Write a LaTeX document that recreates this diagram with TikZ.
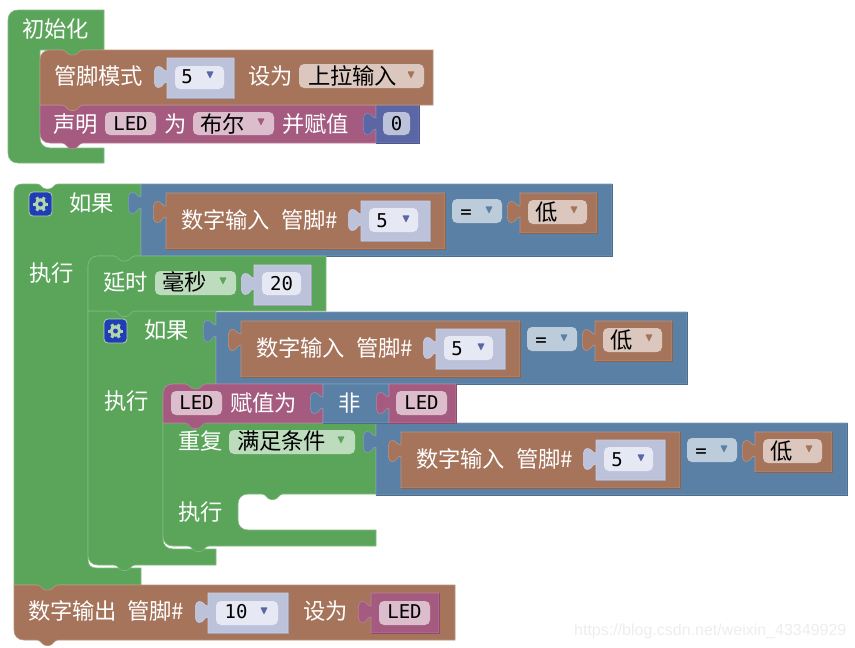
\documentclass[tikz,border=0pt]{standalone}
\usepackage{fontspec}
\setmainfont{Noto Sans CJK SC}
\newfontfamily\monofam{DejaVu Sans Mono}
\newfontfamily\wmfam{Liberation Sans}
\definecolor{cgreen}{HTML}{5BA55B}
\definecolor{cbrown}{HTML}{A5745B}
\definecolor{cpurple}{HTML}{A55B80}
\definecolor{cblue}{HTML}{5B80A5}
\definecolor{cindigo}{HTML}{5B67A5}
\definecolor{cshadow}{HTML}{BDC2DB}
\definecolor{fgreen}{HTML}{BDDBBD}
\definecolor{fbrown}{HTML}{DBC7BD}
\definecolor{fpurple}{HTML}{DBBDCC}
\definecolor{fblue}{HTML}{BDCCDB}
\definecolor{flight}{HTML}{E6E8F3}
\definecolor{gearbox}{HTML}{1F3DB4}
\definecolor{gearfg}{HTML}{B4D4B0}
\newcounter{tn}
\tikzset{
  txt/.style={inner sep=0pt,outer sep=0pt,anchor=base west},
  ftext/.style={txt,font=\fontsize{22.3}{24}\selectfont},
  wtext/.style={ftext,text=white},
  btext/.style={ftext,text=black},
  mtext/.style={inner sep=0pt,outer sep=0pt,anchor=base,text=black,font=\monofam\fontsize{19}{20}\selectfont},
}
\newcommand\WT[3]{\stepcounter{tn}\node[wtext] (t\arabic{tn}) at (#1,#2+8) {#3};}
\newcommand\BT[3]{\stepcounter{tn}\node[btext] (t\arabic{tn}) at (#1,#2+8) {#3};}
\newcommand\MT[3]{\stepcounter{tn}\node[mtext] (t\arabic{tn}) at (#1,#2+6.5) {#3};}
% notch going right on a top edge; x = left end
\def\ntop#1#2{-- (#1,#2) .. controls (#1+4,#2) and (#1+5,#2+5) .. (#1+9,#2+5) -- (#1+12,#2+5) .. controls (#1+16,#2+5) and (#1+17,#2) .. (#1+21,#2)}
% tab going left on a bottom edge; x = left end
\def\nbot#1#2{-- (#1+21,#2) .. controls (#1+17,#2) and (#1+16,#2+5.5) .. (#1+12,#2+5.5) -- (#1+9,#2+5.5) .. controls (#1+5,#2+5.5) and (#1+4,#2) .. (#1,#2)}
% puzzle tab going up on a left edge; x = edge, y = top of block
\def\ptab#1#2{-- (#1,#2+24) .. controls (#1-4,#2+23.5) and (#1-4,#2+30) .. (#1-9,#2+29.5) .. controls (#1-12,#2+29) and (#1-13,#2+26) .. (#1-12.6,#2+19) .. controls (#1-13,#2+12) and (#1-12,#2+9) .. (#1-9,#2+8.5) .. controls (#1-4,#2+8) and (#1-4,#2+13.5) .. (#1,#2+13)}
\newcommand\blk[2]{\path[fill=#1,draw=#1!78!white,line width=.6pt] #2;}
% value block with puzzle tab: colour, x1,y1,x2,y2
\newcommand\val[5]{\path[fill=#1,draw=#1!78!white,line width=.6pt] (#2,#3) -- (#4,#3) -- (#4,#5) -- (#2,#5) \ptab{#2}{#3} -- cycle;
  \draw[#1!85!black,line width=.5pt] (#4,#3) -- (#4,#5) -- (#2,#5);}
\newcommand\fld[5]{\path[fill=#1,rounded corners=5pt] (#2,#3) rectangle (#4,#5);}
\newcommand\tri[3]{\path[fill=#1,rounded corners=.6pt] (#2-3.6,#3-3.6) -- (#2+3.6,#3-3.6) -- (#2,#3+3.6) -- cycle;}
\newcommand\gear[2]{%
  \path[fill=gearbox,draw=gearfg,line width=.8pt,rounded corners=4pt] (#1-11.5,#2-12) rectangle (#1+11.5,#2+12);
  \foreach \a in {0,60,...,300}{\draw[gearfg,line width=3pt] (#1,#2) ++(\a:4.5) -- ++(\a:3.2);}
  \path[draw=gearfg,line width=3pt] (#1,#2) circle[radius=4.2];
}
\newcommand\cond{%
  \val{cblue}{141}{184}{612}{256}
  \val{cbrown}{166}{193}{445}{249}
  \WT{181}{220}{数字输入}
  \WT{281}{220}{管脚\#}
  \val{cshadow}{361}{201}{430}{241}
  \fld{flight}{369}{208}{418}{232}
  \MT{382}{221}{5}
  \tri{cindigo}{406}{219}
  \fld{fblue}{452}{199}{502}{223}
  \MT{466}{212}{=}
  \tri{cblue}{489}{210}
  \val{cbrown}{520}{193}{597}{233}
  \fld{fbrown}{528}{200}{587}{224}
  \BT{535}{212}{低}
  \tri{cbrown}{574}{210}
}
\begin{document}
\begin{tikzpicture}[x=1pt,y=-1pt]
\useasboundingbox (0,0) rectangle (855,648);
%% ---------- init ----------
\blk{cgreen}{(18,10) -- (104,10) -- (104,50) \nbot{62}{50} -- (40,50) -- (40,138) .. controls (40,144) and (44,148) .. (50,148) -- (104,148) -- (104,163) -- (18,163) .. controls (12,163) and (8,159) .. (8,153) -- (8,20) .. controls (8,14) and (12,10) .. (18,10) -- cycle}
\WT{22}{29}{初始化}
\blk{cpurple}{(40,105) \ntop{62}{105} -- (376,105) -- (376,143) \nbot{62}{143} -- (50,143) .. controls (44,143) and (40,139) .. (40,133) -- cycle}
\val{cindigo}{376}{105}{419}{143}
\fld{cshadow}{383}{112}{410}{135}
\MT{396.5}{124}{0}
\WT{53}{124}{声明}
\fld{fpurple}{105}{112}{156}{135}
\MT{130.5}{124}{LED}
\WT{164}{124}{为}
\fld{fpurple}{193}{112}{274}{135}
\BT{200}{124}{布尔}
\tri{cpurple}{261}{122}
\WT{282}{124}{并赋值}
\blk{cbrown}{(50,50) \ntop{62}{50} -- (433,50) -- (433,105) \nbot{62}{105} -- (40,105) -- (40,60) .. controls (40,54) and (44,50) .. (50,50) -- cycle}
\WT{54}{76}{管脚模式}
\val{cshadow}{167}{58}{234}{98}
\fld{flight}{175}{66}{224}{89}
\MT{187}{77}{5}
\tri{cindigo}{210}{75}
\WT{248}{76}{设为}
\fld{fbrown}{299}{64}{424}{88}
\BT{308}{76}{上拉输入}
\tri{cbrown}{411}{75}
%% ---------- outer if ----------
\blk{cgreen}{(22,184) \ntop{37}{184} -- (141,184) -- (141,256) \nbot{114}{256} -- (98,256) .. controls (92,256) and (88,260) .. (88,266) -- (88,560) .. controls (88,565) and (91,568) .. (96,568) -- (141,568) -- (141,585) \nbot{37}{585} -- (14,585) -- (14,192) .. controls (14,187) and (17,184) .. (22,184) -- cycle}
\gear{40.5}{204}
\WT{69}{203}{如果}
\WT{29}{273}{执行}
\cond
%% ---------- inner if ----------
\blk{cgreen}{(88,311) \ntop{114}{311} -- (216,311) -- (216,384) \nbot{185}{384} -- (173,384) .. controls (167,384) and (163,388) .. (163,394) -- (163,540) .. controls (163,545) and (167,549) .. (173,549) -- (216,549) -- (216,565) \nbot{114}{565} -- (98,565) .. controls (92,565) and (88,561) .. (88,555) -- cycle}
\gear{115.5}{331}
\WT{144}{330}{如果}
\WT{104}{401}{执行}
\begin{scope}[shift={(75,128)}]\cond\end{scope}
%% ---------- delay ----------
\blk{cgreen}{(98,256) \ntop{114}{256} -- (326,256) -- (326,311) \nbot{114}{311} -- (88,311) -- (88,266) .. controls (88,260) and (92,256) .. (98,256) -- cycle}
\WT{103}{282}{延时}
\fld{fgreen}{155}{271}{236}{295}
\BT{162}{282}{毫秒}
\tri{cgreen}{223}{281}
\val{cshadow}{254}{265}{311}{305}
\fld{flight}{262}{272}{301}{295}
\MT{281.5}{284}{20}
%% ---------- repeat ----------
\blk{cgreen}{(163,423) -- (376,423) -- (376,494) \nbot{262}{494} -- (248,494) .. controls (242,494) and (238,498) .. (238,504) -- (238,520) .. controls (238,526) and (242,530) .. (248,530) -- (376,530) -- (376,546) \nbot{188}{546} -- (173,546) .. controls (167,546) and (163,542) .. (163,536) -- cycle}
\WT{178}{441}{重复}
\fld{fgreen}{229}{430}{355}{454}
\BT{237}{441}{满足条件}
\tri{cgreen}{341}{440}
\WT{178}{512}{执行}
\begin{scope}[shift={(235,239)}]\cond\end{scope}
%% ---------- assign ----------
\blk{cpurple}{(173,384) \ntop{185}{384} -- (323,384) -- (323,423) \nbot{185}{423} -- (163,423) -- (163,394) .. controls (163,388) and (167,384) .. (173,384) -- cycle}
\fld{fpurple}{171}{391}{222}{415}
\MT{196.5}{403}{LED}
\WT{230}{403}{赋值为}
\val{cblue}{323}{384}{389}{423}
\WT{338}{403}{非}
\val{cpurple}{389}{384}{456}{423}
\fld{fpurple}{396}{391}{447}{415}
\MT{421.5}{403}{LED}
%% ---------- digital output ----------
\blk{cbrown}{(14,585) \ntop{37}{585} -- (455,585) -- (455,640) \nbot{37}{640} -- (24,640) .. controls (18,640) and (14,636) .. (14,630) -- cycle}
\WT{28}{611}{数字输出}
\WT{127}{611}{管脚\#}
\val{cshadow}{208}{593}{288}{633}
\fld{flight}{216}{601}{278}{625}
\MT{236}{612}{10}
\tri{cindigo}{264}{611}
\WT{303}{611}{设为}
\val{cpurple}{371}{593}{439}{633}
\fld{fpurple}{379}{601}{430}{625}
\MT{404.5}{612}{LED}
%% ---------- watermark ----------
\node[inner sep=0pt,anchor=base west,text=black!7,font=\wmfam\fontsize{16}{18}\selectfont] (wm) at (574,635) {https://blog.csdn.net/weixin\_43349929};
\end{tikzpicture}
\end{document}
